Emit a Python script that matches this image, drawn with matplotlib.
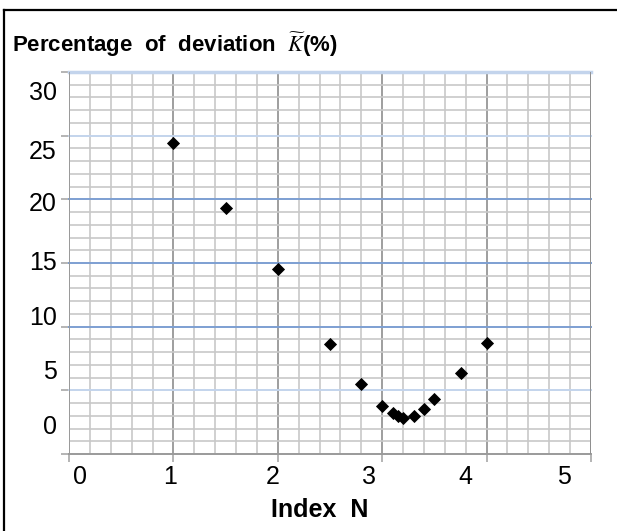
import numpy as np
import matplotlib.pyplot as plt
from matplotlib.transforms import ScaledTranslation

plt.rcParams['font.family'] = ['Liberation Sans', 'DejaVu Sans']
plt.rcParams['mathtext.fontset'] = 'stix'

# Точки: індекс N і відхилення K (%)
n_index = [1.0, 1.5, 2.0, 2.5, 2.8, 3.0, 3.1, 3.15, 3.2, 3.3, 3.4, 3.5, 3.75, 4.0]
deviation = [24.4, 19.3, 14.5, 8.6, 5.5, 3.8, 3.2, 3.0, 2.8, 3.0, 3.5, 4.3, 6.4, 8.7]

x_ticks = [0, 1, 2, 3, 4, 5]
y_ticks = [0, 5, 10, 15, 20, 25, 30]

# зсув підписів відносно ліній сітки (у пікселях), як на оригіналі
x_label_shift = [11, -3, -5, -13, -21, -27]
y_label_shift = [-27, -18, -9, 0, 5, 16, 21]
y_line_colors = ['#9a9a9a', '#c3d4ec', '#7d9fd2', '#7d9fd2', '#7d9fd2', '#c3d4ec', '#c3d4ec']

fig = plt.figure(figsize=(6.17, 5.31), dpi=100)
ax = fig.add_axes([69 / 617, 77 / 531, 522 / 617, 382 / 531])

ax.set_xlim(0, 5)
ax.set_ylim(0, 30)

# дрібна сітка
ax.set_xticks(np.arange(0, 5.01, 0.2), minor=True)
ax.set_yticks(np.arange(0, 30.01, 1), minor=True)
ax.grid(which='minor', color='#c8c8c8', lw=1.2)
ax.set_xticks(x_ticks)
ax.set_yticks(y_ticks)
ax.grid(which='major', axis='x', color='#8e8e8e', lw=1.2)
for yv, c in zip(y_ticks, y_line_colors):
    ax.axhline(yv, color=c, lw=1.4 if yv < 30 else 2.5, zorder=1.5, clip_on=False)
ax.set_axisbelow(True)

for s in ax.spines.values():
    s.set_visible(False)
ax.axvline(0, color='#9a9a9a', lw=1.3, zorder=1.6)
ax.axvline(5, color='#8e8e8e', lw=1.3, zorder=1.6)

ax.tick_params(which='major', length=6, width=1.1, color='#a0a0a0',
               labelbottom=False, labelleft=False)
ax.tick_params(which='minor', length=0)

ax.plot(n_index, deviation, linestyle='none', marker='D', ms=6.6,
        color='black', mec='black', mew=0.6, zorder=3)

# підписи осей зі зсувом
for xv, dx in zip(x_ticks, x_label_shift):
    tr = ax.get_xaxis_transform() + ScaledTranslation(dx / 100, -23 / 100, fig.dpi_scale_trans)
    ax.text(xv, 0, str(xv), transform=tr, ha='center', va='center', fontsize=18)
for yv, dy in zip(y_ticks, y_label_shift):
    tr = ax.get_yaxis_transform() + ScaledTranslation(-12 / 100, -dy / 100, fig.dpi_scale_trans)
    ax.text(0, yv, str(yv), transform=tr, ha='right', va='center', fontsize=18)

fig.text(320 / 617, 1 - 510 / 531, 'Index  N', ha='center', va='center',
         fontsize=18, fontweight='bold')
fig.text(12 / 617, 1 - 45 / 531, r'Percentage  of  deviation  $\widetilde{K}$(%)',
         ha='left', va='center', fontsize=16, fontweight='bold')

# рамка навколо рисунка
fig.add_artist(plt.Line2D([3.5 / 617, 1], [1 - 9.5 / 531, 1 - 9.5 / 531],
                          transform=fig.transFigure, color='black', lw=1.6))
fig.add_artist(plt.Line2D([3.5 / 617, 3.5 / 617], [0, 1 - 9.5 / 531],
                          transform=fig.transFigure, color='black', lw=1.6))

fig.savefig('out.png', dpi=100)
